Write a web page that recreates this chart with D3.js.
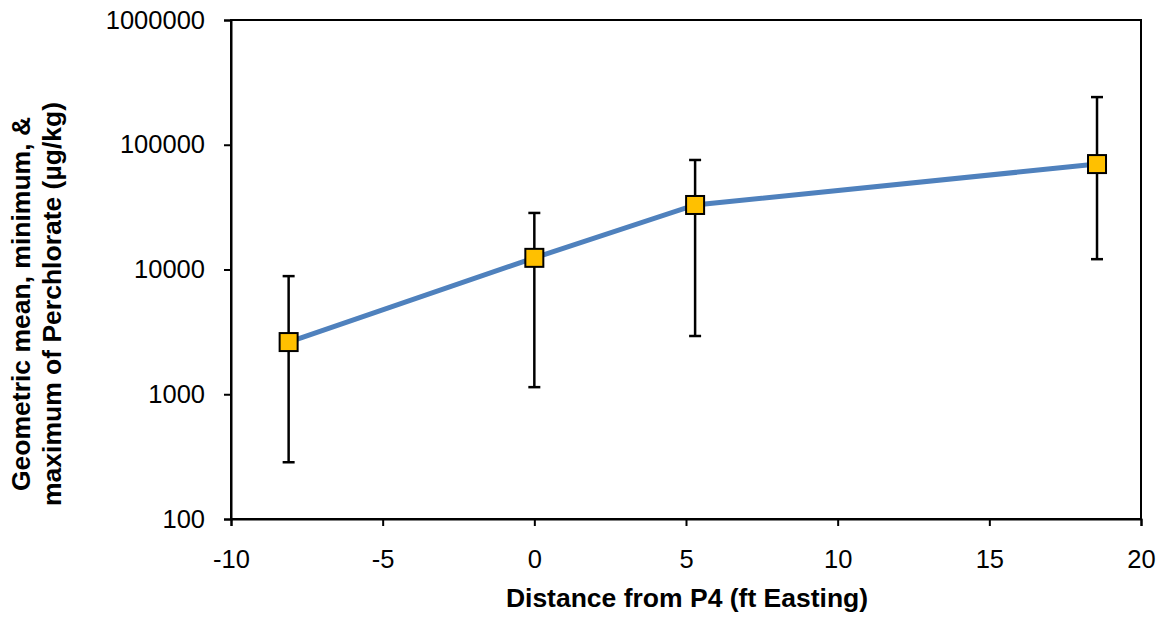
<!DOCTYPE html>
<html><head><meta charset="utf-8">
<script src="https://cdn.jsdelivr.net/npm/d3@7"></script>
<style>body{margin:0;background:#fff}svg{font-family:"Liberation Sans",Arial,sans-serif}</style>
</head><body>
<svg id="c" width="1163" height="618"></svg>
<script>
const distances = [-8.1, 0, 5.3, 18.55];
const geoMean = [2620, 12400, 32900, 70000];
const minVals = [285, 1140, 2930, 12100];
const maxVals = [8850, 28400, 75500, 241000];
const yTicks = [100, 1000, 10000, 100000, 1000000];
const xTicks = [-10, -5, 0, 5, 10, 15, 20];

const svg = d3.select("#c");
const L = 231, R = 1141, T = 20, B = 519;
const x = d3.scaleLinear().domain([-10, 20]).range([L, R]);
const y = d3.scaleLog().domain([100, 1000000]).range([B, T]);

// plot border
svg.append("rect").attr("x", L).attr("y", T).attr("width", R - L).attr("height", B - T)
  .attr("fill", "none").attr("stroke", "#000").attr("stroke-width", 2);

const ya = svg.append("g").attr("transform", `translate(${L},0)`)
  .call(d3.axisLeft(y).tickValues(yTicks).tickFormat(d3.format("d")).tickSize(7).tickPadding(19));
const xa = svg.append("g").attr("transform", `translate(0,${B})`)
  .call(d3.axisBottom(x).tickValues(xTicks).tickFormat(d => d).tickSize(7).tickPadding(24));
[ya, xa].forEach(a => {
  a.select(".domain").attr("stroke", "#000").attr("stroke-width", 2);
  a.selectAll(".tick line").attr("stroke", "#000").attr("stroke-width", 2);
  a.selectAll("text").attr("font-size", 25.5).attr("fill", "#000").attr("font-family", "Liberation Sans, Arial, sans-serif");
});

const data = distances.map((d, i) => ({x: d, m: geoMean[i], lo: minVals[i], hi: maxVals[i]}));

// line
svg.append("path").datum(data)
  .attr("d", d3.line().x(d => x(d.x)).y(d => y(d.m)))
  .attr("fill", "none").attr("stroke", "#4F81BD").attr("stroke-width", 5);

// error bars
const eb = svg.append("g").attr("stroke", "#000").attr("stroke-width", 2.5);
data.forEach(d => {
  eb.append("line").attr("x1", x(d.x)).attr("x2", x(d.x)).attr("y1", y(d.lo)).attr("y2", y(d.hi));
  eb.append("line").attr("x1", x(d.x) - 6).attr("x2", x(d.x) + 6).attr("y1", y(d.lo)).attr("y2", y(d.lo));
  eb.append("line").attr("x1", x(d.x) - 6).attr("x2", x(d.x) + 6).attr("y1", y(d.hi)).attr("y2", y(d.hi));
});

// markers
svg.append("g").selectAll("rect").data(data).join("rect")
  .attr("x", d => x(d.x) - 9).attr("y", d => y(d.m) - 9).attr("width", 18).attr("height", 18)
  .attr("fill", "#FFC000").attr("stroke", "#000").attr("stroke-width", 2);

// axis titles
svg.append("text").attr("x", 687).attr("y", 607).attr("text-anchor", "middle")
  .attr("font-size", 26.5).attr("font-weight", "bold").text("Distance from P4 (ft Easting)");
const yt = svg.append("text").attr("transform", "translate(0,304) rotate(-90)")
  .attr("text-anchor", "middle").attr("font-size", 26.5).attr("font-weight", "bold");
yt.append("tspan").attr("x", 0).attr("y", 30).text("Geometric mean, minimum, &");
yt.append("tspan").attr("x", 0).attr("y", 61).text("maximum of Perchlorate (µg/kg)");
</script>
</body></html>
